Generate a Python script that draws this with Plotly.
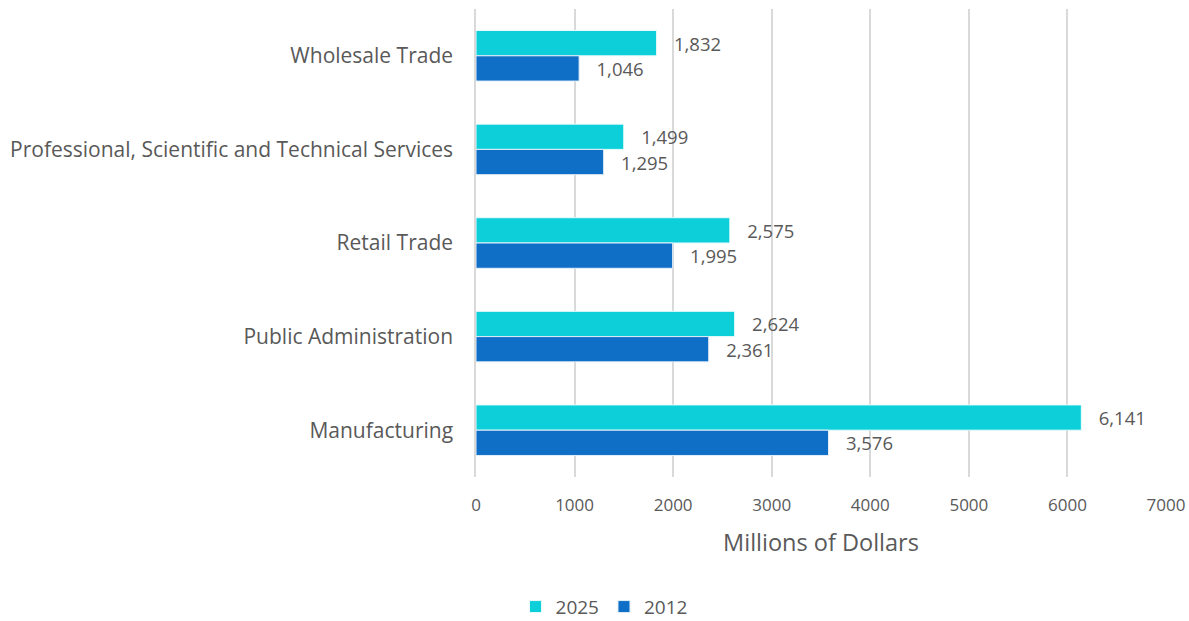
import plotly.graph_objects as go

categories = [
    "Wholesale Trade",
    "Professional, Scientific and Technical Services",
    "Retail Trade",
    "Public Administration",
    "Manufacturing",
]
values_2025 = [1832, 1499, 2575, 2624, 6141]
values_2012 = [1046, 1295, 1995, 2361, 3576]
x_ticks = [0, 1000, 2000, 3000, 4000, 5000, 6000, 7000]

FONT = "Open Sans"
GRAY = "#595959"
PAD = "\u00a0\u00a0\u00a0"

fig = go.Figure()
fig.add_trace(go.Bar(
    name="2025", y=categories, x=values_2025, orientation="h",
    marker=dict(color="#0DCFDA", line=dict(color="#e8fbfc", width=1)),
    text=[PAD + f"{v:,}" for v in values_2025], textposition="outside",
    textfont=dict(family=FONT, size=18.5, color=GRAY), cliponaxis=False,
))
fig.add_trace(go.Bar(
    name="2012", y=categories, x=values_2012, orientation="h",
    marker=dict(color="#0F6FC6", line=dict(color="#e3eef9", width=1)),
    text=[PAD + f"{v:,}" for v in values_2012], textposition="outside",
    textfont=dict(family=FONT, size=18.5, color=GRAY), cliponaxis=False,
))

fig.update_layout(
    width=1189, height=621,
    margin=dict(l=476, r=23, t=9, b=144, autoexpand=False),
    paper_bgcolor="white", plot_bgcolor="white",
    barmode="group", bargap=0.46, bargroupgap=0,
    font=dict(family=FONT, color=GRAY),
    xaxis=dict(
        range=[0, 7000], tickvals=x_ticks, ticktext=[str(t) for t in x_ticks],
        showgrid=True, gridcolor="#d9d9d9", gridwidth=1.5,
        zeroline=False, showline=False,
        ticks="", ticklabelstandoff=16,
        tickfont=dict(family=FONT, size=17, color=GRAY),
        title=dict(text="Millions of Dollars", font=dict(family=FONT, size=23.5, color=GRAY), standoff=19),
    ),
    yaxis=dict(
        autorange="reversed", showgrid=False, zeroline=False,
        showline=True, linecolor="#d9d9d9", linewidth=1.5,
        ticks="", ticklabelstandoff=17,
        tickfont=dict(family=FONT, size=21, color=GRAY),
    ),
    showlegend=True,
    legend=dict(
        orientation="h", xref="container", yref="container",
        x=0.508, xanchor="center", y=0.023, yanchor="middle",
        font=dict(family=FONT, size=19, color=GRAY),
        itemwidth=30,
    ),
)

fig.write_html("out.html", config={"displayModeBar": False},
               post_script="document.body.style.margin='0';")
